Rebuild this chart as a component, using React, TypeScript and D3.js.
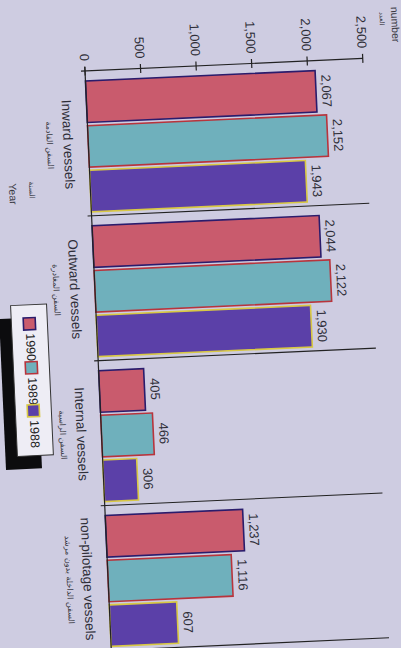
import React from 'react';
import * as d3 from 'd3';

const categories = ['Inward vessels', 'Outward vessels', 'Internal vessels', 'non-pilotage vessels'];
const categoriesAr = ['السفن القادمة', 'السفن المغادرة', 'السفن الراسية', 'السفن الداخلة بدون مرشد'];
const years = ['1990', '1989', '1988'];
const values1990 = [2067, 2044, 405, 1237];
const values1989 = [2152, 2122, 466, 1116];
const values1988 = [1943, 1930, 306, 607];
const valueTicks = [0, 500, 1000, 1500, 2000, 2500];

const W = 401;
const H = 648;
const fills = ['#c95b6d', '#6fb0bc', '#5b40a8'];
const strokes = ['#2a1c6c', '#b8343c', '#d8c844'];
const FONT = 'Liberation Sans, Arial, sans-serif';
const AR_FONT = 'DejaVu Sans, sans-serif';

export default function App() {
  const x = d3.scaleLinear().domain([0, 2500]).range([85, 363]);
  const y0 = d3.scaleBand<string>().domain(categories).range([71, 651]);
  const y1 = d3.scaleBand<string>().domain(years).range([10, 141]).paddingInner(0.07);
  const series = [values1990, values1989, values1988];
  const fmt = d3.format(',');
  const rt = (px: number, py: number) => `translate(${px},${py}) rotate(90)`;
  const step = y0.step();
  const axisY = 71;
  const legendCenters = [321, 365, 408];

  return (
    <svg width={W} height={H} style={{ display: 'block', position: 'absolute', left: 0, top: 0 }}>
      <rect x={0} y={0} width={W} height={H} fill="#cecce1" />
      <g transform={`rotate(-2.6, 85, ${axisY})`} fontFamily={FONT}>
        {/* category separators */}
        {categories.map((c) => (
          <line key={'sep' + c} x1={81} x2={x(2500)} y1={(y0(c) as number) + step} y2={(y0(c) as number) + step} stroke="#222" strokeWidth={1.1} />
        ))}
        {/* bars */}
        {categories.map((c, ci) =>
          years.map((yr, si) => {
            const v = series[si][ci];
            const by = (y0(c) as number) + (y1(yr) as number);
            const bh = y1.bandwidth();
            return (
              <g key={c + yr}>
                <rect x={x(0)} y={by} width={x(v) - x(0)} height={bh} fill={fills[si]} stroke={strokes[si]} strokeWidth={1.6} />
                <text transform={rt(x(v) + 6, by + bh / 2)} textAnchor="middle" fontSize={13} fill="#2e2e38">
                  {fmt(v)}
                </text>
              </g>
            );
          })
        )}
        {/* value axis */}
        <line x1={81} x2={x(2500)} y1={axisY} y2={axisY} stroke="#222" strokeWidth={1.2} />
        <line x1={x(0)} x2={x(0)} y1={axisY - 4} y2={660} stroke="#222" strokeWidth={1.2} />
        {valueTicks.map((t) => (
          <g key={'t' + t}>
            <line x1={x(t)} x2={x(t)} y1={axisY - 4.5} y2={axisY + 4.5} stroke="#222" strokeWidth={1.2} />
            <text transform={rt(x(t), axisY - 10)} textAnchor="end" dy="0.35em" fontSize={13} fill="#2e2e38">
              {fmt(t)}
            </text>
          </g>
        ))}
        <text transform={rt(397, 38.7)} textAnchor="middle" dy="0.35em" fontSize={10.5} fill="#3a3a44">number</text>
        <text transform={rt(384, 32)} textAnchor="middle" dy="0.35em" fontSize={6.5} fontFamily={AR_FONT} fill="#3a3a44">العدد</text>
        {/* category labels */}
        {categories.map((c, ci) => {
          const cy = (y0(c) as number) + step / 2;
          return (
            <g key={'cl' + c}>
              <text transform={rt(65, cy)} textAnchor="middle" dy="0.35em" fontSize={13.5} fill="#2e2e38">{c}</text>
              <text transform={rt(46.5, cy)} textAnchor="middle" dy="0.35em" fontSize={8} fontFamily={AR_FONT} fill="#3a3a44">{categoriesAr[ci]}</text>
            </g>
          );
        })}
        <text transform={rt(7.5, 190.6)} textAnchor="middle" dy="0.35em" fontSize={10.5} fill="#3a3a44">Year</text>
        <text transform={rt(26.6, 187.5)} textAnchor="middle" dy="0.35em" fontSize={7.5} fontFamily={AR_FONT} fill="#3a3a44">السنة</text>
        {/* legend */}
        <rect x={-12} y={315} width={36} height={151} fill="#0c0c0e" />
        <rect x={0} y={302} width={36} height={151} fill="#eeedf5" stroke="#333" strokeWidth={1} />
        {years.map((yr, si) => (
          <g key={'lg' + yr}>
            <rect x={12} y={legendCenters[si] - 6} width={12} height={12} fill={fills[si]} stroke={strokes[si]} strokeWidth={1.6} />
            <text transform={rt(18.5, legendCenters[si] + 9.5)} textAnchor="start" dy="0.35em" fontSize={12.5} fill="#222">{yr}</text>
          </g>
        ))}
      </g>
    </svg>
  );
}
